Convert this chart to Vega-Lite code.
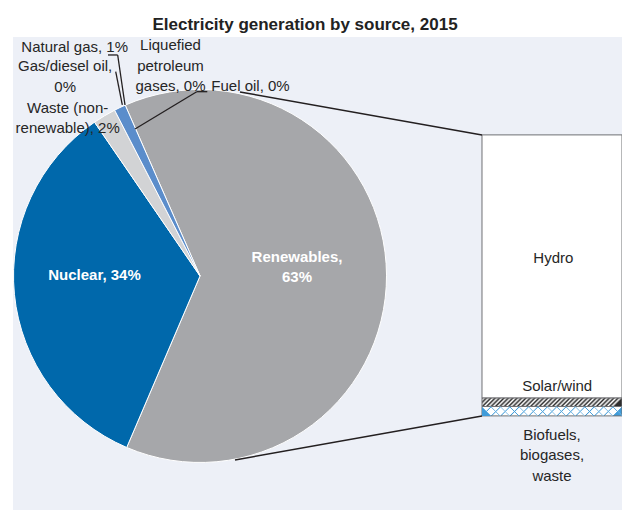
{
  "$schema": "https://vega.github.io/schema/vega-lite/v6.json",
  "width": 609,
  "height": 473,
  "autosize": {"type": "none"},
  "padding": {"left": 13, "top": 37, "right": 0, "bottom": 0},
  "background": "#ffffff",
  "title": {
    "text": "Electricity generation by source, 2015",
    "font": "Liberation Sans, Arial, sans-serif",
    "fontSize": 17,
    "fontWeight": "bold",
    "color": "#222222",
    "anchor": "middle",
    "dx": -12.5,
    "dy": 22,
    "offset": 12,
    "baseline": "alphabetic"
  },
  "config": {
    "view": {"fill": "#edf0f7", "stroke": null},
    "text": {
      "font": "Liberation Sans, Arial, sans-serif",
      "fontSize": 15,
      "lineHeight": 20.5,
      "lineBreak": "\n",
      "align": "center",
      "baseline": "middle",
      "color": "#262626"
    },
    "rule": {"color": "#231f20", "strokeWidth": 1.3}
  },
  "datasets": {
    "generation": [
      {"source": "Renewables", "share": 63, "rank": 1},
      {"source": "Nuclear", "share": 34, "rank": 2},
      {"source": "Waste (non-renewable)", "share": 2, "rank": 3},
      {"source": "Natural gas", "share": 1, "rank": 4},
      {"source": "Gas/diesel oil", "share": 0, "rank": 5},
      {"source": "Liquefied petroleum gases", "share": 0, "rank": 6},
      {"source": "Fuel oil", "share": 0, "rank": 7}
    ],
    "renewables": [
      {"source": "Hydro", "share": 59.0, "rank": 3},
      {"source": "Solar/wind", "share": 1.9, "rank": 2},
      {"source": "Biofuels, biogases, waste", "share": 2.1, "rank": 1}
    ]
  },
  "layer": [
    {
      "data": {"name": "generation"},
      "transform": [{"filter": "datum.share > 0"}],
      "mark": {"type": "arc", "radius": 186.5, "stroke": "#ffffff", "strokeWidth": 1},
      "encoding": {
        "x": {"datum": 41.93, "type": "quantitative", "scale": {"domain": [0, 136.54], "nice": false, "zero": false}, "axis": null},
        "y": {"datum": 31.37, "type": "quantitative", "scale": {"domain": [-21.1, 84.95], "nice": false, "zero": false}, "axis": null},
        "theta": {"field": "share", "type": "quantitative", "stack": "zero", "scale": {"range": [5.8704, 12.1536]}},
        "order": {"field": "rank", "type": "quantitative"},
        "color": {
          "field": "source",
          "type": "nominal",
          "scale": {
            "domain": ["Renewables", "Nuclear", "Waste (non-renewable)", "Natural gas", "Gas/diesel oil", "Liquefied petroleum gases", "Fuel oil"],
            "range": ["#a6a7aa", "#0068ab", "#d2d3d5", "#5b8dcb", "#1f3864", "#8fb4e3", "#404040"]
          },
          "legend": null
        }
      }
    },
    {
      "data": {"name": "renewables"},
      "transform": [
        {"stack": "share", "groupby": [], "sort": [{"field": "rank", "order": "ascending"}], "as": ["lo", "hi"]}
      ],
      "mark": {"type": "rect", "stroke": "#6f7073", "strokeWidth": 1},
      "encoding": {
        "x": {"datum": 105.15, "type": "quantitative", "scale": {"domain": [0, 136.54], "nice": false, "zero": false}, "axis": null},
        "x2": {"datum": 136.54},
        "y": {"field": "lo", "type": "quantitative", "scale": {"domain": [-21.1, 84.95], "nice": false, "zero": false}, "axis": null},
        "y2": {"field": "hi"},
        "fill": {
          "condition": [
            {
              "test": "datum.source === 'Solar/wind'",
              "value": {
                "gradient": "linear", "x1": 0, "y1": 0, "x2": 1, "y2": 0.0605,
                "stops": [
                  {"offset": 0, "color": "#2e2e2e"}, {"offset": 0.015625, "color": "#ffffff"},
                  {"offset": 0.03125, "color": "#2e2e2e"}, {"offset": 0.046875, "color": "#ffffff"},
                  {"offset": 0.0625, "color": "#2e2e2e"}, {"offset": 0.078125, "color": "#ffffff"},
                  {"offset": 0.09375, "color": "#2e2e2e"}, {"offset": 0.109375, "color": "#ffffff"},
                  {"offset": 0.125, "color": "#2e2e2e"}, {"offset": 0.140625, "color": "#ffffff"},
                  {"offset": 0.15625, "color": "#2e2e2e"}, {"offset": 0.171875, "color": "#ffffff"},
                  {"offset": 0.1875, "color": "#2e2e2e"}, {"offset": 0.203125, "color": "#ffffff"},
                  {"offset": 0.21875, "color": "#2e2e2e"}, {"offset": 0.234375, "color": "#ffffff"},
                  {"offset": 0.25, "color": "#2e2e2e"}, {"offset": 0.265625, "color": "#ffffff"},
                  {"offset": 0.28125, "color": "#2e2e2e"}, {"offset": 0.296875, "color": "#ffffff"},
                  {"offset": 0.3125, "color": "#2e2e2e"}, {"offset": 0.328125, "color": "#ffffff"},
                  {"offset": 0.34375, "color": "#2e2e2e"}, {"offset": 0.359375, "color": "#ffffff"},
                  {"offset": 0.375, "color": "#2e2e2e"}, {"offset": 0.390625, "color": "#ffffff"},
                  {"offset": 0.40625, "color": "#2e2e2e"}, {"offset": 0.421875, "color": "#ffffff"},
                  {"offset": 0.4375, "color": "#2e2e2e"}, {"offset": 0.453125, "color": "#ffffff"},
                  {"offset": 0.46875, "color": "#2e2e2e"}, {"offset": 0.484375, "color": "#ffffff"},
                  {"offset": 0.5, "color": "#2e2e2e"}, {"offset": 0.515625, "color": "#ffffff"},
                  {"offset": 0.53125, "color": "#2e2e2e"}, {"offset": 0.546875, "color": "#ffffff"},
                  {"offset": 0.5625, "color": "#2e2e2e"}, {"offset": 0.578125, "color": "#ffffff"},
                  {"offset": 0.59375, "color": "#2e2e2e"}, {"offset": 0.609375, "color": "#ffffff"},
                  {"offset": 0.625, "color": "#2e2e2e"}, {"offset": 0.640625, "color": "#ffffff"},
                  {"offset": 0.65625, "color": "#2e2e2e"}, {"offset": 0.671875, "color": "#ffffff"},
                  {"offset": 0.6875, "color": "#2e2e2e"}, {"offset": 0.703125, "color": "#ffffff"},
                  {"offset": 0.71875, "color": "#2e2e2e"}, {"offset": 0.734375, "color": "#ffffff"},
                  {"offset": 0.75, "color": "#2e2e2e"}, {"offset": 0.765625, "color": "#ffffff"},
                  {"offset": 0.78125, "color": "#2e2e2e"}, {"offset": 0.796875, "color": "#ffffff"},
                  {"offset": 0.8125, "color": "#2e2e2e"}, {"offset": 0.828125, "color": "#ffffff"},
                  {"offset": 0.84375, "color": "#2e2e2e"}, {"offset": 0.859375, "color": "#ffffff"},
                  {"offset": 0.875, "color": "#2e2e2e"}, {"offset": 0.890625, "color": "#ffffff"},
                  {"offset": 0.90625, "color": "#2e2e2e"}, {"offset": 0.921875, "color": "#ffffff"},
                  {"offset": 0.9375, "color": "#2e2e2e"}, {"offset": 0.953125, "color": "#ffffff"},
                  {"offset": 0.96875, "color": "#2e2e2e"}, {"offset": 0.984375, "color": "#ffffff"},
                  {"offset": 1, "color": "#2e2e2e"}
                ]
              }
            },
            {
              "test": "datum.source === 'Biofuels, biogases, waste'",
              "value": {
                "gradient": "linear", "x1": 0, "y1": 0, "x2": 1, "y2": 0.0669,
                "stops": [
                  {"offset": 0, "color": "#3f9bd9"}, {"offset": 0.008, "color": "#ffffff"}, {"offset": 0.0587, "color": "#ffffff"},
                  {"offset": 0.0667, "color": "#3f9bd9"}, {"offset": 0.0747, "color": "#ffffff"}, {"offset": 0.1253, "color": "#ffffff"},
                  {"offset": 0.1333, "color": "#3f9bd9"}, {"offset": 0.1413, "color": "#ffffff"}, {"offset": 0.192, "color": "#ffffff"},
                  {"offset": 0.2, "color": "#3f9bd9"}, {"offset": 0.208, "color": "#ffffff"}, {"offset": 0.2587, "color": "#ffffff"},
                  {"offset": 0.2667, "color": "#3f9bd9"}, {"offset": 0.2747, "color": "#ffffff"}, {"offset": 0.3253, "color": "#ffffff"},
                  {"offset": 0.3333, "color": "#3f9bd9"}, {"offset": 0.3413, "color": "#ffffff"}, {"offset": 0.392, "color": "#ffffff"},
                  {"offset": 0.4, "color": "#3f9bd9"}, {"offset": 0.408, "color": "#ffffff"}, {"offset": 0.4587, "color": "#ffffff"},
                  {"offset": 0.4667, "color": "#3f9bd9"}, {"offset": 0.4747, "color": "#ffffff"}, {"offset": 0.5253, "color": "#ffffff"},
                  {"offset": 0.5333, "color": "#3f9bd9"}, {"offset": 0.5413, "color": "#ffffff"}, {"offset": 0.592, "color": "#ffffff"},
                  {"offset": 0.6, "color": "#3f9bd9"}, {"offset": 0.608, "color": "#ffffff"}, {"offset": 0.6587, "color": "#ffffff"},
                  {"offset": 0.6667, "color": "#3f9bd9"}, {"offset": 0.6747, "color": "#ffffff"}, {"offset": 0.7253, "color": "#ffffff"},
                  {"offset": 0.7333, "color": "#3f9bd9"}, {"offset": 0.7413, "color": "#ffffff"}, {"offset": 0.792, "color": "#ffffff"},
                  {"offset": 0.8, "color": "#3f9bd9"}, {"offset": 0.808, "color": "#ffffff"}, {"offset": 0.8587, "color": "#ffffff"},
                  {"offset": 0.8667, "color": "#3f9bd9"}, {"offset": 0.8747, "color": "#ffffff"}, {"offset": 0.9253, "color": "#ffffff"},
                  {"offset": 0.9333, "color": "#3f9bd9"}, {"offset": 0.9413, "color": "#ffffff"}, {"offset": 0.992, "color": "#ffffff"},
                  {"offset": 1, "color": "#3f9bd9"}
                ]
              }
            }
          ],
          "value": "#ffffff"
        }
      }
    },
    {
      "data": {"name": "renewables"},
      "transform": [
        {"stack": "share", "groupby": [], "sort": [{"field": "rank", "order": "ascending"}], "as": ["lo", "hi"]},
        {"filter": "datum.source === 'Biofuels, biogases, waste'"}
      ],
      "mark": {
        "type": "rect",
        "fill": {
          "gradient": "linear", "x1": 0, "y1": 0.0669, "x2": 1, "y2": 0,
          "stops": [
            {"offset": 0, "color": "#3f9bd9"}, {"offset": 0.008, "color": "rgba(255,255,255,0)"}, {"offset": 0.0587, "color": "rgba(255,255,255,0)"},
            {"offset": 0.0667, "color": "#3f9bd9"}, {"offset": 0.0747, "color": "rgba(255,255,255,0)"}, {"offset": 0.1253, "color": "rgba(255,255,255,0)"},
            {"offset": 0.1333, "color": "#3f9bd9"}, {"offset": 0.1413, "color": "rgba(255,255,255,0)"}, {"offset": 0.192, "color": "rgba(255,255,255,0)"},
            {"offset": 0.2, "color": "#3f9bd9"}, {"offset": 0.208, "color": "rgba(255,255,255,0)"}, {"offset": 0.2587, "color": "rgba(255,255,255,0)"},
            {"offset": 0.2667, "color": "#3f9bd9"}, {"offset": 0.2747, "color": "rgba(255,255,255,0)"}, {"offset": 0.3253, "color": "rgba(255,255,255,0)"},
            {"offset": 0.3333, "color": "#3f9bd9"}, {"offset": 0.3413, "color": "rgba(255,255,255,0)"}, {"offset": 0.392, "color": "rgba(255,255,255,0)"},
            {"offset": 0.4, "color": "#3f9bd9"}, {"offset": 0.408, "color": "rgba(255,255,255,0)"}, {"offset": 0.4587, "color": "rgba(255,255,255,0)"},
            {"offset": 0.4667, "color": "#3f9bd9"}, {"offset": 0.4747, "color": "rgba(255,255,255,0)"}, {"offset": 0.5253, "color": "rgba(255,255,255,0)"},
            {"offset": 0.5333, "color": "#3f9bd9"}, {"offset": 0.5413, "color": "rgba(255,255,255,0)"}, {"offset": 0.592, "color": "rgba(255,255,255,0)"},
            {"offset": 0.6, "color": "#3f9bd9"}, {"offset": 0.608, "color": "rgba(255,255,255,0)"}, {"offset": 0.6587, "color": "rgba(255,255,255,0)"},
            {"offset": 0.6667, "color": "#3f9bd9"}, {"offset": 0.6747, "color": "rgba(255,255,255,0)"}, {"offset": 0.7253, "color": "rgba(255,255,255,0)"},
            {"offset": 0.7333, "color": "#3f9bd9"}, {"offset": 0.7413, "color": "rgba(255,255,255,0)"}, {"offset": 0.792, "color": "rgba(255,255,255,0)"},
            {"offset": 0.8, "color": "#3f9bd9"}, {"offset": 0.808, "color": "rgba(255,255,255,0)"}, {"offset": 0.8587, "color": "rgba(255,255,255,0)"},
            {"offset": 0.8667, "color": "#3f9bd9"}, {"offset": 0.8747, "color": "rgba(255,255,255,0)"}, {"offset": 0.9253, "color": "rgba(255,255,255,0)"},
            {"offset": 0.9333, "color": "#3f9bd9"}, {"offset": 0.9413, "color": "rgba(255,255,255,0)"}, {"offset": 0.992, "color": "rgba(255,255,255,0)"},
            {"offset": 1, "color": "#3f9bd9"}
          ]
        }
      },
      "encoding": {
        "x": {"datum": 105.15, "type": "quantitative", "scale": {"domain": [0, 136.54], "nice": false, "zero": false}, "axis": null},
        "x2": {"datum": 136.54},
        "y": {"field": "lo", "type": "quantitative", "scale": {"domain": [-21.1, 84.95], "nice": false, "zero": false}, "axis": null},
        "y2": {"field": "hi"}
      }
    },
    {
      "data": {"values": [{}]},
      "layer": [
        {
          "mark": {"type": "rule", "strokeWidth": 1.5},
          "encoding": {
            "x": {"datum": 50.89, "type": "quantitative", "scale": {"domain": [0, 136.54], "nice": false, "zero": false}, "axis": null},
            "y": {"datum": 72.62, "type": "quantitative", "scale": {"domain": [-21.1, 84.95], "nice": false, "zero": false}, "axis": null},
            "x2": {"datum": 105.15},
            "y2": {"datum": 63}
          }
        },
        {
          "mark": {"type": "rule", "strokeWidth": 1.5},
          "encoding": {
            "x": {"datum": 49.77, "type": "quantitative", "scale": {"domain": [0, 136.54], "nice": false, "zero": false}, "axis": null},
            "y": {"datum": -9.89, "type": "quantitative", "scale": {"domain": [-21.1, 84.95], "nice": false, "zero": false}, "axis": null},
            "x2": {"datum": 105.15},
            "y2": {"datum": 0}
          }
        },
        {
          "mark": {"type": "rule"},
          "encoding": {
            "x": {"datum": 21.3, "type": "quantitative", "scale": {"domain": [0, 136.54], "nice": false, "zero": false}, "axis": null},
            "y": {"datum": 80.92, "type": "quantitative", "scale": {"domain": [-21.1, 84.95], "nice": false, "zero": false}, "axis": null},
            "x2": {"datum": 23.47},
            "y2": {"datum": 80.92}
          }
        },
        {
          "mark": {"type": "rule"},
          "encoding": {
            "x": {"datum": 23.47, "type": "quantitative", "scale": {"domain": [0, 136.54], "nice": false, "zero": false}, "axis": null},
            "y": {"datum": 80.92, "type": "quantitative", "scale": {"domain": [-21.1, 84.95], "nice": false, "zero": false}, "axis": null},
            "x2": {"datum": 25.11},
            "y2": {"datum": 69.71}
          }
        },
        {
          "mark": {"type": "rule"},
          "encoding": {
            "x": {"datum": 23.03, "type": "quantitative", "scale": {"domain": [0, 136.54], "nice": false, "zero": false}, "axis": null},
            "y": {"datum": 77.17, "type": "quantitative", "scale": {"domain": [-21.1, 84.95], "nice": false, "zero": false}, "axis": null},
            "x2": {"datum": 24.51},
            "y2": {"datum": 69.71}
          }
        },
        {
          "mark": {"type": "rule"},
          "encoding": {
            "x": {"datum": 43.56, "type": "quantitative", "scale": {"domain": [0, 136.54], "nice": false, "zero": false}, "axis": null},
            "y": {"datum": 72.69, "type": "quantitative", "scale": {"domain": [-21.1, 84.95], "nice": false, "zero": false}, "axis": null},
            "x2": {"datum": 41.19},
            "y2": {"datum": 72.69}
          }
        },
        {
          "mark": {"type": "rule"},
          "encoding": {
            "x": {"datum": 41.19, "type": "quantitative", "scale": {"domain": [0, 136.54], "nice": false, "zero": false}, "axis": null},
            "y": {"datum": 72.69, "type": "quantitative", "scale": {"domain": [-21.1, 84.95], "nice": false, "zero": false}, "axis": null},
            "x2": {"datum": 27.35},
            "y2": {"datum": 64.32}
          }
        },
        {
          "mark": {"type": "text", "color": "#ffffff", "fontWeight": "bold"},
          "encoding": {
            "x": {"datum": 18.27, "type": "quantitative", "scale": {"domain": [0, 136.54], "nice": false, "zero": false}, "axis": null},
            "y": {"datum": 31.48, "type": "quantitative", "scale": {"domain": [-21.1, 84.95], "nice": false, "zero": false}, "axis": null},
            "text": {"value": "Nuclear, 34%"}
          }
        },
        {
          "mark": {"type": "text", "color": "#ffffff", "fontWeight": "bold"},
          "encoding": {
            "x": {"datum": 63.67, "type": "quantitative", "scale": {"domain": [0, 136.54], "nice": false, "zero": false}, "axis": null},
            "y": {"datum": 35.63, "type": "quantitative", "scale": {"domain": [-21.1, 84.95], "nice": false, "zero": false}, "axis": null},
            "text": {"value": "Renewables,\n63%"}
          }
        },
        {
          "mark": {"type": "text"},
          "encoding": {
            "x": {"datum": 13.83, "type": "quantitative", "scale": {"domain": [0, 136.54], "nice": false, "zero": false}, "axis": null},
            "y": {"datum": 82.82, "type": "quantitative", "scale": {"domain": [-21.1, 84.95], "nice": false, "zero": false}, "axis": null},
            "text": {"value": "Natural gas, 1%"}
          }
        },
        {
          "mark": {"type": "text"},
          "encoding": {
            "x": {"datum": 11.7, "type": "quantitative", "scale": {"domain": [0, 136.54], "nice": false, "zero": false}, "axis": null},
            "y": {"datum": 78.34, "type": "quantitative", "scale": {"domain": [-21.1, 84.95], "nice": false, "zero": false}, "axis": null},
            "text": {"value": "Gas/diesel oil,\n0%"}
          }
        },
        {
          "mark": {"type": "text"},
          "encoding": {
            "x": {"datum": 12.26, "type": "quantitative", "scale": {"domain": [0, 136.54], "nice": false, "zero": false}, "axis": null},
            "y": {"datum": 69.14, "type": "quantitative", "scale": {"domain": [-21.1, 84.95], "nice": false, "zero": false}, "axis": null},
            "text": {"value": "Waste (non-\nrenewable), 2%"}
          }
        },
        {
          "mark": {"type": "text"},
          "encoding": {
            "x": {"datum": 35.31, "type": "quantitative", "scale": {"domain": [0, 136.54], "nice": false, "zero": false}, "axis": null},
            "y": {"datum": 83.05, "type": "quantitative", "scale": {"domain": [-21.1, 84.95], "nice": false, "zero": false}, "axis": null},
            "text": {"value": "Liquefied\npetroleum\ngases, 0%"}
          }
        },
        {
          "mark": {"type": "text"},
          "encoding": {
            "x": {"datum": 53.25, "type": "quantitative", "scale": {"domain": [0, 136.54], "nice": false, "zero": false}, "axis": null},
            "y": {"datum": 73.97, "type": "quantitative", "scale": {"domain": [-21.1, 84.95], "nice": false, "zero": false}, "axis": null},
            "text": {"value": "Fuel oil, 0%"}
          }
        },
        {
          "mark": {"type": "text"},
          "encoding": {
            "x": {"datum": 121.14, "type": "quantitative", "scale": {"domain": [0, 136.54], "nice": false, "zero": false}, "axis": null},
            "y": {"datum": 35.51, "type": "quantitative", "scale": {"domain": [-21.1, 84.95], "nice": false, "zero": false}, "axis": null},
            "text": {"value": "Hydro"}
          }
        },
        {
          "mark": {"type": "text"},
          "encoding": {
            "x": {"datum": 122.01, "type": "quantitative", "scale": {"domain": [0, 136.54], "nice": false, "zero": false}, "axis": null},
            "y": {"datum": 6.75, "type": "quantitative", "scale": {"domain": [-21.1, 84.95], "nice": false, "zero": false}, "axis": null},
            "text": {"value": "Solar/wind"}
          }
        },
        {
          "mark": {"type": "text"},
          "encoding": {
            "x": {"datum": 120.85, "type": "quantitative", "scale": {"domain": [0, 136.54], "nice": false, "zero": false}, "axis": null},
            "y": {"datum": -4.28, "type": "quantitative", "scale": {"domain": [-21.1, 84.95], "nice": false, "zero": false}, "axis": null},
            "text": {"value": "Biofuels,\nbiogases,\nwaste"}
          }
        }
      ]
    }
  ]
}
